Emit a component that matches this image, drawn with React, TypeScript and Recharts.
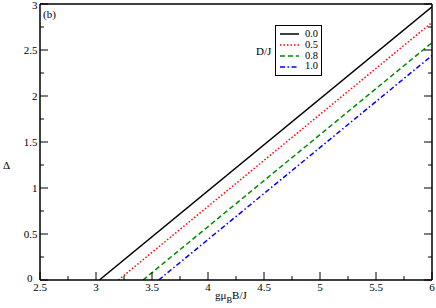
import React from "react"
import { LineChart, Line, XAxis, YAxis, Legend, Label, Customized } from "recharts"

// D/J values shown in the legend
const dLabels = ["0.0", "0.5", "0.8", "1.0"]

// each curve: field gμB B/J and gap Δ (straight line from gap closing to x = 6)
const field00 = [3.03, 6]
const gap00 = [0, 2.97]
const field05 = [3.2, 6]
const gap05 = [0, 2.8]
const field08 = [3.42, 6]
const gap08 = [0, 2.58]
const field10 = [3.56, 6]
const gap10 = [0, 2.44]

const xTicks = [2.5, 2.75, 3, 3.25, 3.5, 3.75, 4, 4.25, 4.5, 4.75, 5, 5.25, 5.5, 5.75, 6]
const yTicks = [0, 0.25, 0.5, 0.75, 1, 1.25, 1.5, 1.75, 2, 2.25, 2.5, 2.75, 3]

const COLORS = ["#000000", "#ff0000", "#008b00", "#0000ff"]
const DASHES = [undefined, "1.5 2", "5 3", "5 2.5 1.5 2.5"]

const toPoints = (xs: number[], ys: number[]) => xs.map((b, i) => ({ b, gap: ys[i] }))
const curves = [
  toPoints(field00, gap00),
  toPoints(field05, gap05),
  toPoints(field08, gap08),
  toPoints(field10, gap10),
]

const FONT = "Liberation Serif, Times New Roman, serif"

const isMajor = (v: number) => Math.abs(v * 2 - Math.round(v * 2)) < 1e-6

const BottomTick = (props: any) => {
  const { x, y, payload } = props
  const v = payload.value
  return (
    <g>
      <line x1={x} x2={x} y1={y} y2={y - (isMajor(v) ? 8 : 4)} stroke="#000" />
      {isMajor(v) && (
        <text x={x} y={y + 10.5} textAnchor="middle" fontFamily={FONT} fontSize={11} fill="#000">
          {String(v)}
        </text>
      )}
    </g>
  )
}

const TopTick = (props: any) => {
  const { x, y, payload } = props
  const v = payload.value
  return <line x1={x} x2={x} y1={y} y2={y + (isMajor(v) ? 8 : 4)} stroke="#000" />
}

const LeftTick = (props: any) => {
  const { x, y, payload } = props
  const v = payload.value
  // the "0" sits up and left, clear of the first x label
  const ty = v === 0 ? y + 1.5 : Math.max(y + 4, 9)
  const tx = v === 0 ? x - 7.5 : x - 2.5
  return (
    <g>
      <line x1={x} x2={x + (isMajor(v) ? 8 : 4)} y1={y} y2={y} stroke="#000" />
      {isMajor(v) && (
        <text x={tx} y={ty} textAnchor="end" fontFamily={FONT} fontSize={11} fill="#000">
          {String(v)}
        </text>
      )}
    </g>
  )
}

const RightTick = (props: any) => {
  const { x, y, payload } = props
  const v = payload.value
  return <line x1={x} x2={x - (isMajor(v) ? 8 : 4)} y1={y} y2={y} stroke="#000" />
}

const LegendBox = () => (
  <div style={{ position: "relative", fontFamily: FONT, fontSize: 10.5, color: "#000" }}>
    <div style={{ position: "absolute", left: -19, top: 21, fontSize: 11, lineHeight: "11px" }}>D/J</div>
    <div style={{ border: "1px solid #000", background: "#fff", padding: "3px 3px 3px 4px", width: 38 }}>
      {dLabels.map((d, i) => (
        <div key={d} style={{ display: "flex", alignItems: "center", height: 10.8, lineHeight: "10.8px" }}>
          <svg width={19} height={6} style={{ marginRight: 6 }}>
            <line x1={0} x2={19} y1={3} y2={3} stroke={COLORS[i]} strokeWidth={1.5} strokeDasharray={DASHES[i]} />
          </svg>
          <span>{d}</span>
        </div>
      ))}
    </div>
  </div>
)

export default function App() {
  return (
    <div style={{ position: "absolute", left: 0, top: 0, background: "#fff" }}>
      <LineChart width={436} height={308} margin={{ top: 0, right: 0, bottom: 0, left: 0 }}>
        <XAxis
          xAxisId="bottom"
          dataKey="b"
          type="number"
          domain={[2.5, 6]}
          ticks={xTicks}
          interval={0}
          allowDataOverflow
          height={28}
          tickSize={0}
          tickMargin={0}
          tickLine={false}
          tick={<BottomTick />}
          axisLine={{ stroke: "#000", strokeWidth: 1.5 }}
        >
          <Label
            content={() => (
              <text x={215} y={299} fontFamily={FONT} fontSize={11} fill="#000">
                gμ
                <tspan fontSize={8.5} dy={4}>B</tspan>
                <tspan dy={-4}>B/J</tspan>
              </text>
            )}
          />
        </XAxis>
        <XAxis
          xAxisId="top"
          orientation="top"
          type="number"
          domain={[2.5, 6]}
          ticks={xTicks}
          interval={0}
          allowDataOverflow
          height={4}
          tickSize={0}
          tickMargin={0}
          tickLine={false}
          tick={<TopTick />}
          axisLine={{ stroke: "#000", strokeWidth: 1.5 }}
        />
        <YAxis
          yAxisId="left"
          type="number"
          domain={[0, 3]}
          ticks={yTicks}
          interval={0}
          allowDataOverflow
          width={40}
          tickSize={0}
          tickMargin={0}
          tickLine={false}
          tick={<LeftTick />}
          axisLine={{ stroke: "#000", strokeWidth: 1.5 }}
        >
          <Label
            content={() => (
              <text x={3} y={169} fontFamily={FONT} fontSize={11} fill="#000">
                Δ
              </text>
            )}
          />
        </YAxis>
        <YAxis
          yAxisId="right"
          orientation="right"
          type="number"
          domain={[0, 3]}
          ticks={yTicks}
          interval={0}
          allowDataOverflow
          width={4}
          tickSize={0}
          tickMargin={0}
          tickLine={false}
          tick={<RightTick />}
          axisLine={{ stroke: "#000", strokeWidth: 1.5 }}
        />
        {curves.map((pts, i) => (
          <Line
            key={dLabels[i]}
            data={pts}
            xAxisId="bottom"
            yAxisId="left"
            dataKey="gap"
            name={dLabels[i]}
            type="linear"
            stroke={COLORS[i]}
            strokeWidth={1.5}
            strokeDasharray={DASHES[i]}
            dot={false}
            isAnimationActive={false}
          />
        ))}
        <Legend
          layout="vertical"
          align="center"
          verticalAlign="middle"
          content={<LegendBox />}
          wrapperStyle={{ left: 275, top: 25, width: 48 }}
        />
        <Customized
          component={() => (
            <text x={43} y={18} fontFamily={FONT} fontSize={11} fill="#000">
              (b)
            </text>
          )}
        />
      </LineChart>
    </div>
  )
}
